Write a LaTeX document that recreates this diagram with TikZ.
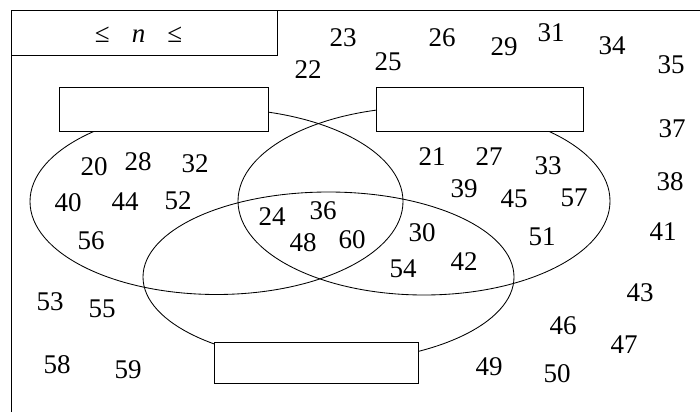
\documentclass[tikz,border=0pt]{standalone}
\usepackage{fontspec}
\setmainfont{Liberation Serif}
\usetikzlibrary{shapes.geometric}
\begin{document}
\begin{tikzpicture}[x=1pt,y=-1pt,
  num/.style={inner sep=0pt,font=\fontsize{27}{27}\selectfont},
  setellipse/.style={ellipse,draw,line width=0.85pt,inner sep=0pt},
  labelbox/.style={rectangle,draw,fill=white,line width=0.9pt,inner sep=0pt,minimum height=44pt}]
\useasboundingbox (0,0) rectangle (700,412);
% frame
\coordinate (fb) at (11,412);
\coordinate (ftl) at (11,10);
\coordinate (ftr) at (700,10);
\draw[line width=0.9pt] (fb) -- (ftl) -- (ftr);
\node[rectangle,draw,line width=0.9pt,minimum width=266pt,minimum height=45pt,inner sep=0pt] (header) at (144,32.5) {};
\node[inner sep=0pt,anchor=base,font=\fontsize{27}{27}\selectfont] (range) at (138.5,43) {≤\hspace{22pt}\textit{n}\hspace{22pt}≤};
% ellipses
\node[setellipse,minimum width=373pt,minimum height=186pt] (A) at (216.5,201.5) {};
\node[setellipse,minimum width=372pt,minimum height=188pt] (B) at (424,201) {};
\node[setellipse,minimum width=371pt,minimum height=170pt] (C) at (328.5,277) {};
% label boxes
\node[labelbox,minimum width=209pt] (boxA) at (163.5,109) {};
\node[labelbox,minimum width=207pt] (boxB) at (479.5,109) {};
\node[labelbox,minimum width=204pt,minimum height=41pt] (boxC) at (316,362.5) {};
% numbers
\foreach \t/\x/\y in {20/94/167,28/138/162,32/195/164,40/68/203,44/125/202,52/178/201,56/91/241,
  24/272/217,36/323/211,48/303/243,60/352/240,
  21/432/157,27/489/157,33/548/166,39/464/189,45/514/199,57/574/198,
  30/422/233,54/403/269,42/464/262,51/542/237,
  22/308/70,23/343/38,25/388/62,26/442/38,29/504/47,31/551/33,34/612/46,35/671/65,
  37/672/129,38/670/182,41/663/232,43/640/293,46/563/326,47/624/345,49/489/367,50/557/374,
  53/50/302,55/102/309,58/57/365,59/128/370}
  \node[num] (n\t) at (\x,\y) {\t};
\end{tikzpicture}
\end{document}
